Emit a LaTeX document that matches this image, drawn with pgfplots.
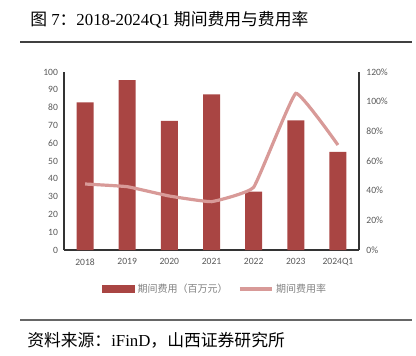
\documentclass[border=0pt]{standalone}
\usepackage{pgfplots}
\pgfplotsset{compat=1.18}
\usepackage{fontspec}
\setmainfont{Liberation Serif}
\newfontfamily\cjk{Noto Sans CJK SC}
\newfontfamily\tickf{Carlito}
\definecolor{barc}{HTML}{A94543}
\definecolor{linec}{HTML}{D89A98}
\definecolor{tickc}{HTML}{595959}
\definecolor{legc}{HTML}{808080}
\begin{document}
\begin{tikzpicture}[x=0.75pt,y=-0.75pt]
\useasboundingbox (0,0) rectangle (416,355);
\node[anchor=west,font=\fontsize{12.6}{13}\selectfont,inner sep=0] at (30,20) {{\cjk 图} 7{\cjk ：}2018-2024Q1 {\cjk 期间费用与费用率}};
\draw[line width=0.8pt,black!75] (20,42) -- (412,42);
\draw[line width=0.8pt,black!60] (20,320) -- (412,320);
\node[anchor=west,font=\fontsize{12.6}{13}\selectfont,inner sep=0] at (27,340) {{\cjk 资料来源：}iFinD{\cjk ，山西证券研究所}};

\begin{axis}[at={(48pt,-187.5pt)},anchor=south west,scale only axis,
  width=221.25pt,height=133.5pt,
  xmin=-0.5,xmax=6.5,ymin=0,ymax=100,
  ytick={0,10,...,100},xtick={0,...,6},
  xticklabels={2018,2019,2020,2021,2022,2023,2024Q1},
  axis x line*=bottom,axis y line*=left,
  axis line style={black!80,-,line width=0.8pt},
  major tick length=0pt,
  /pgf/number format/assume math mode=true,
  tick label style={font=\tickf\fontsize{7.2}{8}\selectfont,text=tickc},
  xticklabel style={yshift=-3pt},
  yticklabel style={xshift=-1pt},
  ybar,bar width=12.75pt]
\addplot[fill=barc,draw=none] coordinates {(0,83) (1,95.5) (2,72.6) (3,87.5) (4,32.8) (5,72.8) (6,55.2)};
\end{axis}

\begin{axis}[at={(48pt,-187.5pt)},anchor=south west,scale only axis,
  width=221.25pt,height=133.5pt,
  xmin=-0.5,xmax=6.5,ymin=0,ymax=120,
  ytick={0,20,...,120},
  /pgf/number format/assume math mode=true,
  yticklabel={\pgfmathprintnumber{\tick}\%},
  axis x line=none,axis y line*=right,
  axis line style={black!80,-,line width=0.8pt},
  major tick length=0pt,
  tick label style={font=\tickf\fontsize{7.2}{8}\selectfont,text=tickc},
  yticklabel style={xshift=2pt},
  legend style={draw=none,fill=none,legend columns=2,at={(0.514,-0.219)},anchor=center,
    font=\cjk\fontsize{7.5}{8}\selectfont,text=legc,
    /tikz/every even column/.append style={column sep=6pt}},
  ]
\addlegendimage{legend image code/.code={\fill[barc] (0pt,-2.6pt) rectangle (24pt,2.6pt);}}
\addlegendentry{期间费用（百万元）}
\addplot[linec,line width=2.4pt,smooth,tension=0.18,
  legend image code/.code={\draw[linec,line width=2.4pt] (0pt,0pt) -- (24pt,0pt);}]
  coordinates {(0,44.5) (1,42.7) (2,36.4) (3,32.6) (4,42.3) (5,105.6) (6,70.8)};
\addlegendentry{期间费用率}
\end{axis}
\end{tikzpicture}
\end{document}
